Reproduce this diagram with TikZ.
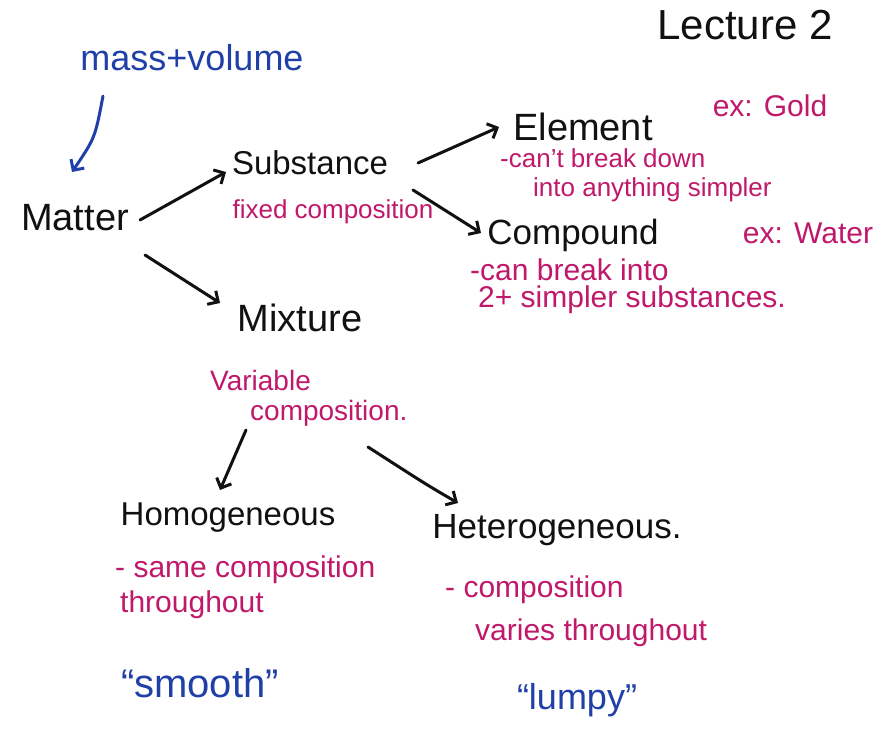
\documentclass[tikz,border=0pt]{standalone}
\usepackage{fontspec}
\setmainfont{Liberation Sans}
\usetikzlibrary{arrows.meta}
\definecolor{inkmag}{HTML}{C0186A}
\definecolor{inkblue}{HTML}{2040A8}
\definecolor{inkblack}{HTML}{111111}
\tikzset{
  head/.style={inner sep=0pt, text=inkblack, font=\fontsize{33}{36}\selectfont},
  bighead/.style={head, font=\fontsize{38}{40}\selectfont},
  note/.style={inner sep=0pt, text=inkmag, font=\fontsize{26}{30}\selectfont},
  bignote/.style={note, font=\fontsize{30}{34}\selectfont},
  bnote/.style={inner sep=0pt, text=inkblue, font=\fontsize{36}{40}\selectfont},
  arr/.style={draw=inkblack, line width=3pt, line cap=round, line join=round,
    -{Straight Barb[length=8pt,width=16pt,line width=3pt]}},
  barr/.style={arr, draw=inkblue}
}
\begin{document}
\begin{tikzpicture}[x=1pt,y=-1pt]
\useasboundingbox (0,0) rectangle (883,749);
\fill[white] (0,0) rectangle (883,749);
% headings
\node[head, font=\fontsize{42}{44}\selectfont] (lecture) at (745,25) {Lecture 2};
\node[bnote] (mass) at (192,58) {mass+volume};
\node[bighead] (matter) at (75,218) {Matter};
\node[head] (substance) at (310,163) {Substance};
\node[note] (fixed) at (333,212) {fixed composition};
\node[bighead] (element) at (583,127) {Element};
\node[bignote] (exgold) at (770,106) {ex: Gold};
\node[note, anchor=west] (cant1) at (500,158) {-can't break down};
\node[note, anchor=west] (cant2) at (533,190) {into anything simpler};
\node[head, font=\fontsize{35}{38}\selectfont] (compound) at (573,235) {Compound};
\node[bignote] (exwater) at (808,233) {ex: Water};
\node[bignote, anchor=west] (canb1) at (470,270) {-can break into};
\node[bignote, anchor=west] (canb2) at (478,300) {2+ simpler substances.};
\node[bighead] (mixture) at (300,318) {Mixture};
\node[note, font=\fontsize{28}{32}\selectfont, anchor=west] (var1) at (210,380) {Variable};
\node[note, font=\fontsize{28}{32}\selectfont, anchor=west] (var2) at (250,413) {composition.};
\node[head] (homog) at (228,518) {Homogeneous};
\node[head, font=\fontsize{35}{38}\selectfont] (heterog) at (557,530) {Heterogeneous.};
\node[bignote, anchor=west] (same1) at (115,570) {- same composition};
\node[bignote, anchor=west] (same2) at (120,605) {throughout};
\node[bignote, anchor=west] (comp1) at (445,590) {- composition};
\node[bignote, anchor=west] (comp2) at (475,633) {varies throughout};
\node[bnote, font=\fontsize{40}{44}\selectfont] (smooth) at (200,683) {“smooth”};
\node[bnote] (lumpy) at (577,700) {“lumpy”};
% connectors
\draw[barr] ([shift={(-89,38)}]mass.center) .. controls ([shift={(-97,80)}]mass.center) .. ([shift={(-3,-46)}]matter.center);
\draw[arr] ([shift={(65,2)}]matter.center) -- ([shift={(-84,9)}]substance.center);
\draw[arr] ([shift={(108,0)}]substance.center) -- ([shift={(-84,0)}]element.center);
\draw[arr] ([shift={(103,27)}]substance.center) -- ([shift={(-92,-2)}]compound.center);
\draw[arr] ([shift={(70,37)}]matter.center) -- ([shift={(-80,-15)}]mixture.center);
\draw[arr] ([shift={(-54,112)}]mixture.center) -- ([shift={(-8,-28)}]homog.center);
\draw[arr] ([shift={(68,129)}]mixture.center) .. controls ([shift={(-130,-45)}]heterog.center) .. ([shift={(-99,-27)}]heterog.center);
\end{tikzpicture}
\end{document}
